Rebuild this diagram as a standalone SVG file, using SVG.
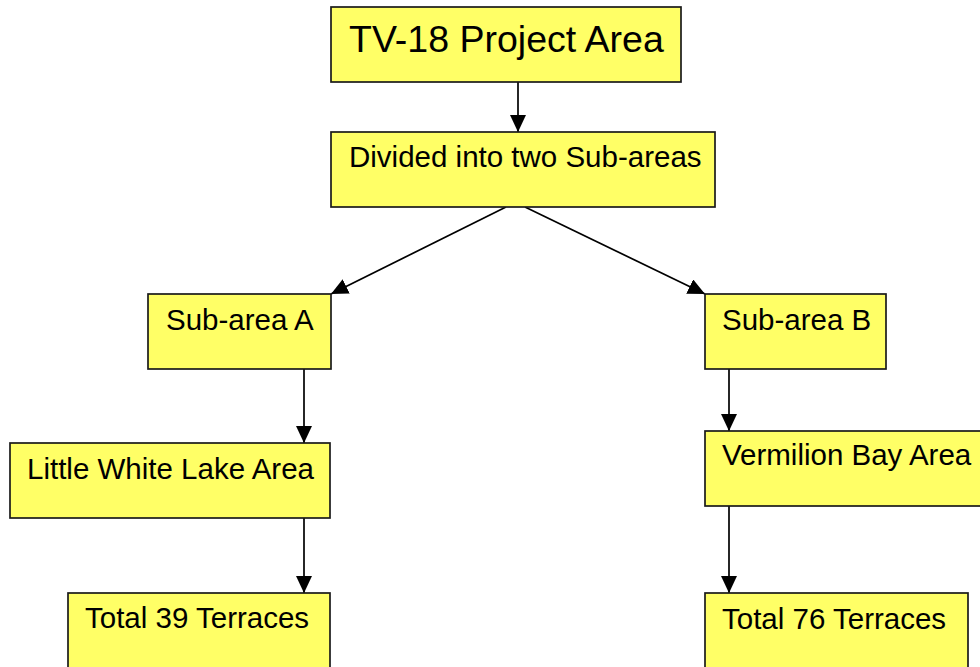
<svg xmlns="http://www.w3.org/2000/svg" width="980" height="667" viewBox="0 0 980 667">
<defs>
<style>
.box{fill:#ffff66;stroke:#1a1a1a;stroke-width:1.7}
.t{font-family:"Liberation Sans",Arial,sans-serif;font-size:29.5px;fill:#000}
.big{font-size:37.5px}
.c{stroke:#000;stroke-width:1.7;fill:none;marker-end:url(#ah)}
</style>
<marker id="ah" markerUnits="userSpaceOnUse" markerWidth="17" markerHeight="16" refX="17" refY="8" orient="auto">
<path d="M0,0 L17,8 L0,16 Z" fill="#000"/>
</marker>
</defs>
<rect width="980" height="667" fill="#fff"/>
<g id="connectors">
<line class="c" x1="518" y1="82" x2="518" y2="132"/>
<line class="c" x1="506" y1="207" x2="331" y2="294"/>
<line class="c" x1="525" y1="207" x2="705" y2="294"/>
<line class="c" x1="304" y1="369" x2="304" y2="443"/>
<line class="c" x1="304" y1="518" x2="304" y2="593"/>
<line class="c" x1="729" y1="369" x2="729" y2="431"/>
<line class="c" x1="729" y1="506" x2="729" y2="593"/>
</g>
<g id="project">
<rect class="box" x="331" y="7" width="350" height="75"/>
<text class="t big" x="349" y="52">TV-18 Project Area</text>
</g>
<g id="divided">
<rect class="box" x="331" y="132" width="384" height="75"/>
<text class="t" x="349" y="167">Divided into two Sub-areas</text>
</g>
<g id="subA">
<rect class="box" x="148" y="294" width="183" height="75"/>
<text class="t" x="166" y="330">Sub-area A</text>
</g>
<g id="subB">
<rect class="box" x="705" y="294" width="181" height="75"/>
<text class="t" x="722" y="330">Sub-area B</text>
</g>
<g id="lwl">
<rect class="box" x="10" y="443" width="320" height="75"/>
<text class="t" x="27" y="479">Little White Lake Area</text>
</g>
<g id="vba">
<rect class="box" x="705" y="431" width="290" height="75"/>
<text class="t" x="722" y="465">Vermilion Bay Area</text>
</g>
<g id="t39">
<rect class="box" x="68" y="593" width="262" height="90"/>
<text class="t" x="85" y="628">Total 39 Terraces</text>
</g>
<g id="t76">
<rect class="box" x="705" y="593" width="263" height="90"/>
<text class="t" x="722" y="629">Total 76 Terraces</text>
</g>
</svg>
